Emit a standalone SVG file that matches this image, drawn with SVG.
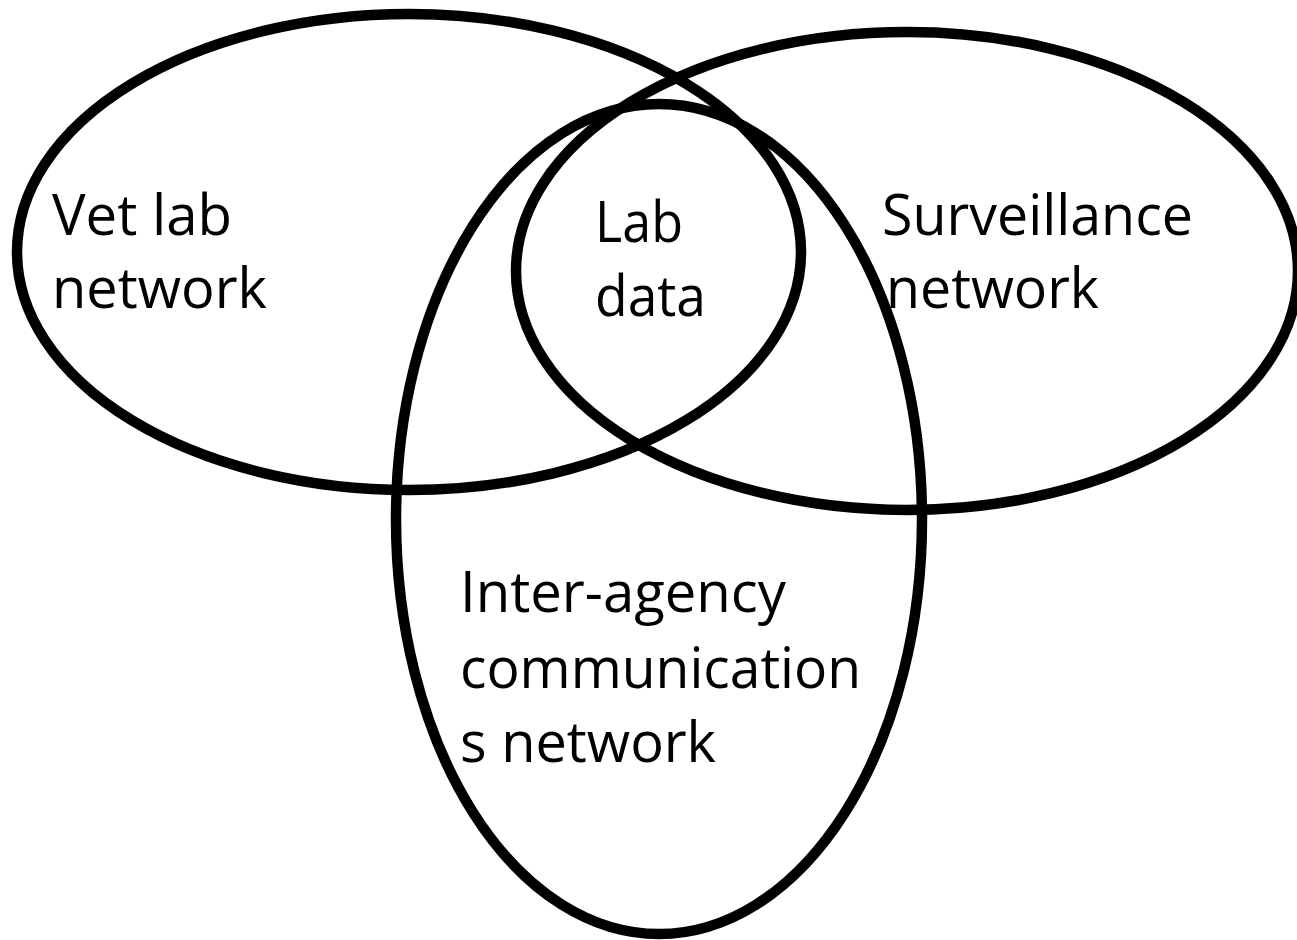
<svg xmlns="http://www.w3.org/2000/svg" width="1297" height="940" viewBox="0 0 1297 940">
  <style>
    .set { fill: none; stroke: #000; stroke-width: 10.5; }
    .lbl { font-family: "Open Sans", "Noto Sans", "Liberation Sans", sans-serif; font-size: 56px; fill: #000; }
  </style>
  <rect width="1297" height="940" fill="#fff"/>
  <g id="vet-lab-network">
    <ellipse class="set" cx="409" cy="252" rx="392" ry="238"/>
    <text class="lbl" x="52" y="235" textLength="180" lengthAdjust="spacingAndGlyphs">Vet lab</text>
    <text class="lbl" x="52" y="308" textLength="215" lengthAdjust="spacingAndGlyphs">network</text>
  </g>
  <g id="surveillance-network">
    <ellipse class="set" cx="907" cy="271" rx="391" ry="239"/>
    <text class="lbl" x="882" y="235" textLength="311" lengthAdjust="spacingAndGlyphs">Surveillance</text>
    <text class="lbl" x="886" y="308" textLength="213" lengthAdjust="spacingAndGlyphs">network</text>
  </g>
  <g id="inter-agency-network">
    <ellipse class="set" cx="659" cy="519" rx="263" ry="415"/>
    <text class="lbl" x="460" y="612" textLength="326" lengthAdjust="spacingAndGlyphs">Inter-agency</text>
    <text class="lbl" x="460" y="688" textLength="401" lengthAdjust="spacingAndGlyphs">communication</text>
    <text class="lbl" x="460" y="762" textLength="256" lengthAdjust="spacingAndGlyphs">s network</text>
  </g>
  <g id="lab-data">
    <text class="lbl" x="595" y="242" textLength="88" lengthAdjust="spacingAndGlyphs">Lab</text>
    <text class="lbl" x="595" y="316" textLength="111" lengthAdjust="spacingAndGlyphs">data</text>
  </g>
  <g id="connectors"></g>
</svg>
